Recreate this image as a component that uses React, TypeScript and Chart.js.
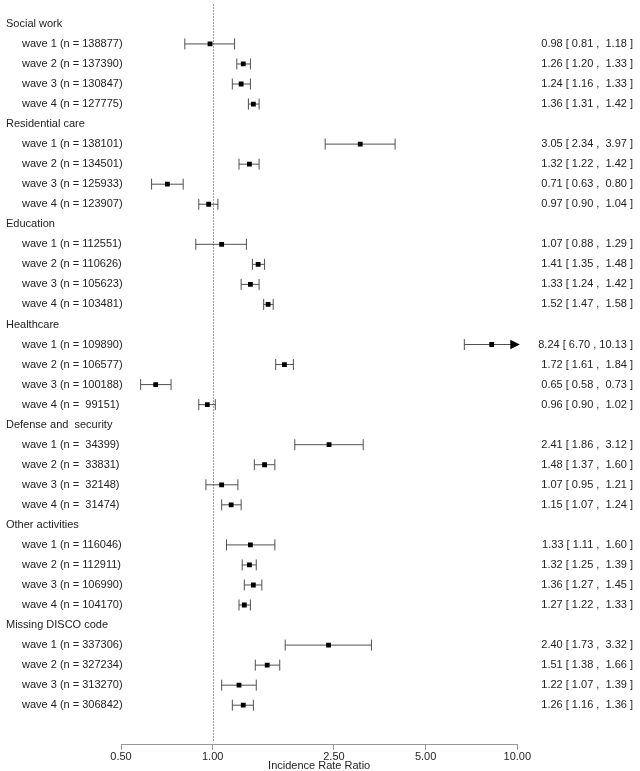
import React, { useEffect, useRef } from "react";
import { Chart, registerables } from "chart.js";

Chart.register(...registerables);

const groups = [
  "Social work",
  "Residential care",
  "Education",
  "Healthcare",
  "Defense and  security",
  "Other activities",
  "Missing DISCO code",
];
const waves = ["wave 1", "wave 2", "wave 3", "wave 4"];
const sampleSizes = [
  [138877, 137390, 130847, 127775],
  [138101, 134501, 125933, 123907],
  [112551, 110626, 105623, 103481],
  [109890, 106577, 100188, 99151],
  [34399, 33831, 32148, 31474],
  [116046, 112911, 106990, 104170],
  [337306, 327234, 313270, 306842],
];
const estimates = [
  [0.98, 1.26, 1.24, 1.36],
  [3.05, 1.32, 0.71, 0.97],
  [1.07, 1.41, 1.33, 1.52],
  [8.24, 1.72, 0.65, 0.96],
  [2.41, 1.48, 1.07, 1.15],
  [1.33, 1.32, 1.36, 1.27],
  [2.4, 1.51, 1.22, 1.26],
];
const lowerCI = [
  [0.81, 1.2, 1.16, 1.31],
  [2.34, 1.22, 0.63, 0.9],
  [0.88, 1.35, 1.24, 1.47],
  [6.7, 1.61, 0.58, 0.9],
  [1.86, 1.37, 0.95, 1.07],
  [1.11, 1.25, 1.27, 1.22],
  [1.73, 1.38, 1.07, 1.16],
];
const upperCI = [
  [1.18, 1.33, 1.33, 1.42],
  [3.97, 1.42, 0.8, 1.04],
  [1.29, 1.48, 1.42, 1.58],
  [10.13, 1.84, 0.73, 1.02],
  [3.12, 1.6, 1.21, 1.24],
  [1.6, 1.39, 1.45, 1.33],
  [3.32, 1.66, 1.39, 1.36],
];
const xTicks = [0.5, 1, 2.5, 5, 10];
const xTitle = "Incidence Rate Ratio";
const refValue = 1;

const FONT = '"Liberation Sans", Arial, sans-serif';
const W = 640;
const H = 771;
const ROW_TOP = 20;
const ROW_STEP = 20.147;
const AXIS_Y = 744;

const yMin = -ROW_TOP / ROW_STEP;
const yMax = yMin + AXIS_Y / ROW_STEP;

const rowOf = (g: number, w: number) => g * 6 - g + 1 + w;

export default function App() {
  const ref = useRef<HTMLCanvasElement | null>(null);

  useEffect(() => {
    if (!ref.current) return;
    const points: { x: number; y: number }[] = [];
    groups.forEach((_, g) =>
      waves.forEach((__, w) => points.push({ x: estimates[g][w], y: rowOf(g, w) }))
    );
    const xMin = xTicks[0];
    const xMax = xTicks[xTicks.length - 1];
    const loW = Math.max(...lowerCI.flat().map((v) => v.toFixed(2).length));
    const hiW = Math.max(...upperCI.flat().map((v) => v.toFixed(2).length));

    const forestPlugin = {
      id: "forest",
      beforeDatasetsDraw(chart: any) {
        const { ctx, chartArea } = chart;
        const xs = chart.scales.x;
        const ys = chart.scales.y;
        ctx.save();
        // reference line
        const rx = Math.round(xs.getPixelForValue(refValue)) + 0.5;
        ctx.strokeStyle = "#a0a0a0";
        ctx.lineWidth = 1;
        ctx.setLineDash([2, 1]);
        ctx.beginPath();
        ctx.moveTo(rx, chartArea.top);
        ctx.lineTo(rx, chartArea.bottom - 2);
        ctx.stroke();
        ctx.setLineDash([]);
        // CI bars
        ctx.strokeStyle = "#505050";
        ctx.fillStyle = "#000";
        groups.forEach((_, g) =>
          waves.forEach((__, w) => {
            const y = ys.getPixelForValue(rowOf(g, w));
            const lo = lowerCI[g][w];
            const hi = upperCI[g][w];
            const x1 = xs.getPixelForValue(Math.max(lo, xMin));
            const clippedHi = hi > xMax;
            const xEnd = xs.getPixelForValue(Math.min(hi, xMax));
            ctx.beginPath();
            ctx.moveTo(x1, y);
            ctx.lineTo(clippedHi ? xEnd - 6 : xEnd, y);
            ctx.stroke();
            const cap = 5.5;
            if (lo >= xMin) {
              ctx.beginPath();
              ctx.moveTo(x1, y - cap);
              ctx.lineTo(x1, y + cap);
              ctx.stroke();
            }
            if (!clippedHi) {
              ctx.beginPath();
              ctx.moveTo(xEnd, y - cap);
              ctx.lineTo(xEnd, y + cap);
              ctx.stroke();
            } else {
              const tip = xEnd + 2.5;
              ctx.beginPath();
              ctx.moveTo(tip, y);
              ctx.lineTo(tip - 9.5, y - 4.7);
              ctx.lineTo(tip - 9.5, y + 4.7);
              ctx.closePath();
              ctx.fill();
            }
          })
        );
        ctx.restore();
      },
      afterDraw(chart: any) {
        const { ctx } = chart;
        const ys = chart.scales.y;
        ctx.save();
        ctx.font = `11px ${FONT}`;
        ctx.fillStyle = "#222";
        ctx.textBaseline = "middle";
        groups.forEach((name, g) => {
          ctx.textAlign = "left";
          ctx.fillText(name, 6, ys.getPixelForValue(g * 5));
          waves.forEach((wave, w) => {
            const y = ys.getPixelForValue(rowOf(g, w));
            ctx.textAlign = "left";
            const n = String(sampleSizes[g][w]).padStart(6, " ");
            ctx.fillText(`${wave} (n = ${n})`, 22, y);
            ctx.textAlign = "right";
            const s = `${estimates[g][w].toFixed(2)} [ ${lowerCI[g][w]
              .toFixed(2)
              .padStart(loW, " ")} , ${upperCI[g][w].toFixed(2).padStart(hiW, " ")} ]`;
            ctx.fillText(s, 633, y);
          });
        });
        ctx.restore();
      },
    };

    const chart = new Chart(ref.current, {
      type: "scatter",
      data: {
        datasets: [
          {
            data: points,
            pointStyle: "rect",
            pointRadius: 3.4,
            pointBackgroundColor: "#000",
            pointBorderWidth: 0,
            borderWidth: 0,
          } as any,
        ],
      },
      options: {
        animation: false,
        responsive: false,
        devicePixelRatio: 1,
        layout: { padding: { left: 121, right: W - 517.3, top: 0, bottom: 0 } },
        plugins: { legend: { display: false }, tooltip: { enabled: false } },
        scales: {
          x: {
            type: "logarithmic",
            min: xMin,
            max: xMax,
            afterBuildTicks: (scale: any) => {
              scale.ticks = xTicks.map((v) => ({ value: v }));
            },
            afterFit: (scale: any) => {
              scale.height = H - AXIS_Y;
            },
            ticks: {
              callback: (v: any) => Number(v).toFixed(2),
              color: "#222",
              font: { family: FONT, size: 11 },
              padding: 0,
              autoSkip: false,
              maxRotation: 0,
            },
            grid: {
              drawOnChartArea: false,
              drawTicks: true,
              tickLength: 6,
              color: "#999",
            },
            border: { display: true, color: "#999", width: 1 },
            title: {
              display: true,
              text: xTitle,
              color: "#222",
              font: { family: FONT, size: 11 },
              padding: { top: 0, bottom: -2 },
            },
          } as any,
          y: {
            type: "linear",
            display: false,
            reverse: true,
            min: yMin,
            max: yMax,
          },
        },
      },
      plugins: [forestPlugin],
    });
    return () => chart.destroy();
  }, []);

  return (
    <div style={{ position: "fixed", left: 0, top: 0, width: W, height: H, overflow: "hidden", background: "#fff" }}>
      <canvas ref={ref} width={W} height={H} style={{ display: "block", width: W, height: H }} />
    </div>
  );
}
